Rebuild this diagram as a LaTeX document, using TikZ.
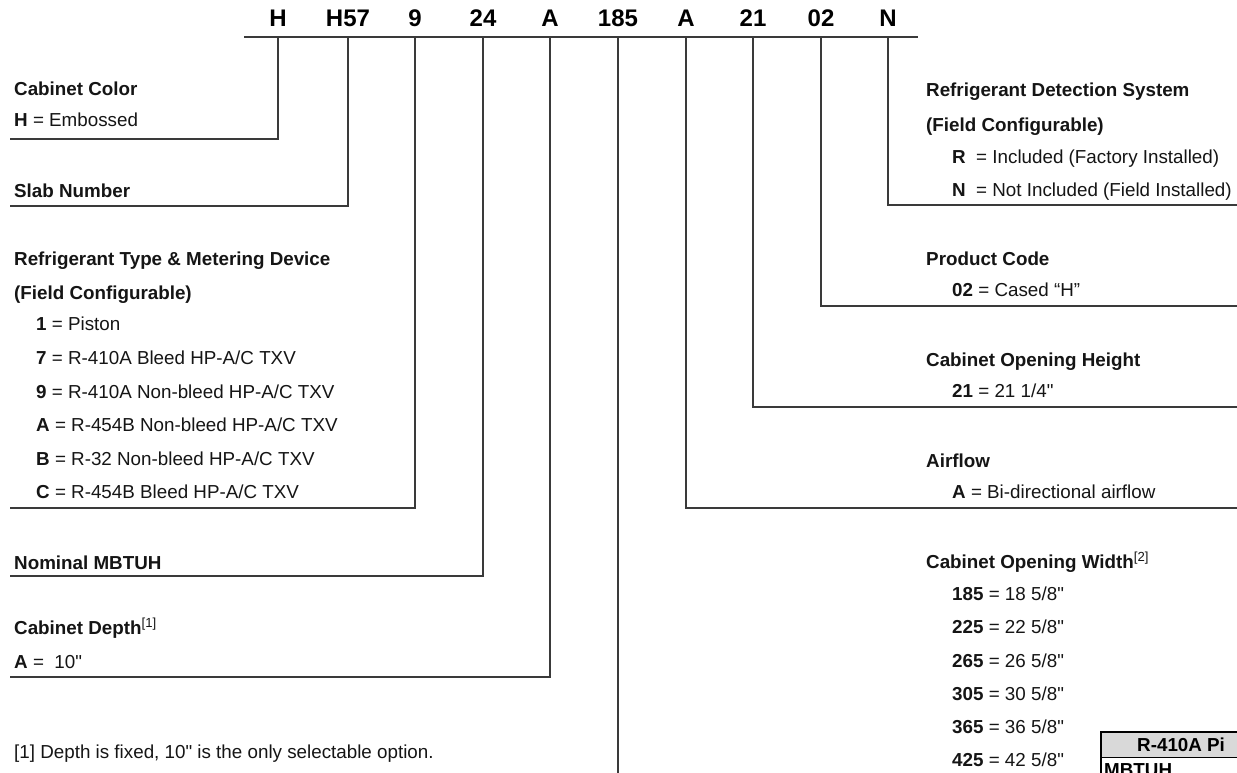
\documentclass[tikz,border=0pt]{standalone}
\usepackage{fontspec}
\setmainfont{Liberation Sans}[Ligatures=TeXOff]
\definecolor{linec}{HTML}{3A3A3A}
\definecolor{textc}{HTML}{151515}
\definecolor{hdrgray}{HTML}{D9D9D9}
\newcommand{\inch}{\symbol{34}}
\tikzset{
  txt/.style={anchor=base west, inner sep=0pt, text=textc, font=\fontsize{18.8}{22}\selectfont},
  bold/.style={txt, font=\fontsize{18.8}{22}\selectfont\bfseries},
  code/.style={anchor=base, inner sep=0pt, text=black, font=\fontsize{24}{28}\selectfont\bfseries},
  conn/.style={draw=linec, line width=1.6pt},
}
\begin{document}
\begin{tikzpicture}[x=1pt,y=-1pt]
\useasboundingbox (0,0) rectangle (1237,773);
\clip (0,0) rectangle (1237,773);
\fill[white] (0,0) rectangle (1237,773);

% header
\coordinate (hl) at (244,37);
\coordinate (hr) at (918,37);
\draw[conn] (hl) -- (hr);
\foreach \x/\t/\n in {278/H/1, 348/H57/2, 415/9/3, 483/24/4, 550/A/5, 618/185/6, 686/A/7, 753/21/8, 821/02/9, 888/N/10}{
  \node[code] (c\n) at (\x,27) {\t};
  \coordinate (t\n) at (\x,37);
}

% endpoints
\coordinate (e1) at (10,139);
\coordinate (e2) at (10,206);
\coordinate (e3) at (10,508);
\coordinate (e4) at (10,576);
\coordinate (e5) at (10,677);
\coordinate (e6) at (618,773);
\coordinate (e7) at (1237,508);
\coordinate (e8) at (1237,407);
\coordinate (e9) at (1237,306);
\coordinate (e10) at (1237,205);

\draw[conn] (t1) |- (e1);
\draw[conn] (t2) |- (e2);
\draw[conn] (t3) |- (e3);
\draw[conn] (t4) |- (e4);
\draw[conn] (t5) |- (e5);
\draw[conn] (t6) -- (e6);
\draw[conn] (t7) |- (e7);
\draw[conn] (t8) |- (e8);
\draw[conn] (t9) |- (e9);
\draw[conn] (t10) |- (e10);

% left texts
\node[bold] (cc) at (14,96) {Cabinet Color};
\node[txt] (cc1) at (14,127) {\textbf{H} = Embossed};
\node[bold] (sn) at (14,197) {Slab Number};
\node[bold] (rt) at (14,265) {Refrigerant Type \& Metering Device};
\node[bold] (rt0) at (14,299) {(Field Configurable)};
\node[txt] (rt1) at (36,330) {\textbf{1} = Piston};
\node[txt] (rt2) at (36,364) {\textbf{7} = R-410A Bleed HP-A/C TXV};
\node[txt] (rt3) at (36,398) {\textbf{9} = R-410A Non-bleed HP-A/C TXV};
\node[txt] (rt4) at (36,431) {\textbf{A} = R-454B Non-bleed HP-A/C TXV};
\node[txt] (rt5) at (36,465) {\textbf{B} = R-32 Non-bleed HP-A/C TXV};
\node[txt] (rt6) at (36,498) {\textbf{C} = R-454B Bleed HP-A/C TXV};
\node[bold] (nm) at (14,569) {Nominal MBTUH};
\node[bold] (cd) at (14,634) {Cabinet Depth\textsuperscript{\mdseries[1]}};
\node[txt] (cd1) at (14,668) {\textbf{A} =\ \ 10\inch};
\node[txt] (fn) at (14,758) {[1] Depth is fixed, 10\inch{} is the only selectable option.};

% right texts
\node[bold] (rd) at (926,97) {Refrigerant Detection System};
\node[bold] (rd0) at (926,132) {(Field Configurable)};
\node[txt] (rd1) at (952,164) {\textbf{R}\ \ = Included (Factory Installed)};
\node[txt] (rd2) at (952,196) {\textbf{N}\ \ = Not Included (Field Installed)};
\node[bold] (pc) at (926,265) {Product Code};
\node[txt] (pc1) at (952,296) {\textbf{02} = Cased “H”};
\node[bold] (oh) at (926,366) {Cabinet Opening Height};
\node[txt] (oh1) at (952,397) {\textbf{21} = 21 1/4\inch};
\node[bold] (af) at (926,467) {Airflow};
\node[txt] (af1) at (952,498) {\textbf{A} = Bi-directional airflow};
\node[bold] (ow) at (926,568) {Cabinet Opening Width\textsuperscript{\mdseries[2]}};
\node[txt] (ow1) at (952,600) {\textbf{185} = 18 5/8\inch};
\node[txt] (ow2) at (952,633) {\textbf{225} = 22 5/8\inch};
\node[txt] (ow3) at (952,667) {\textbf{265} = 26 5/8\inch};
\node[txt] (ow4) at (952,700) {\textbf{305} = 30 5/8\inch};
\node[txt] (ow5) at (952,733) {\textbf{365} = 36 5/8\inch};
\node[txt] (ow6) at (952,766) {\textbf{425} = 42 5/8\inch};

% table fragment (cropped at the picture's edge, as in the reference)
\fill[hdrgray] (1101,732) rectangle (1240,757);
\draw[black, line width=2.2pt] (1101,790) -- (1101,732) -- (1240,732);
\draw[black, line width=1pt] (1101,757) -- (1240,757);
\node[bold, text=black] (tb) at (1137,751) {R-410A Pi};
\node[bold, text=black] (tb2) at (1104,776) {MBTUH};
\end{tikzpicture}
\end{document}
